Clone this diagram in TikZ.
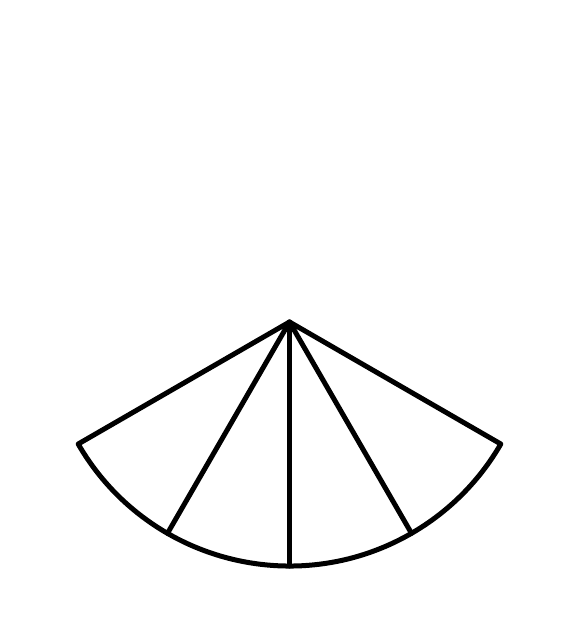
\documentclass[tikz,border=0pt]{standalone}
\usetikzlibrary{calc}
\begin{document}
\begin{tikzpicture}[x=1pt,y=1pt,fan/.style={line width=5pt,line join=round,line cap=round}]
\useasboundingbox (0,-640) rectangle (585,0);
\coordinate (O) at (289.5,-322);
\coordinate (A) at ($(O)+(-150:244)$);
\coordinate (B) at ($(O)+(-120:244)$);
\coordinate (C) at ($(O)+(-90:244)$);
\coordinate (D) at ($(O)+(-60:244)$);
\coordinate (E) at ($(O)+(-30:244)$);
\draw[fan] (O) -- (A) arc (-150:-30:244) -- cycle;
\draw[fan] (O) -- (B);
\draw[fan] (O) -- (C);
\draw[fan] (O) -- (D);
\end{tikzpicture}
\end{document}
